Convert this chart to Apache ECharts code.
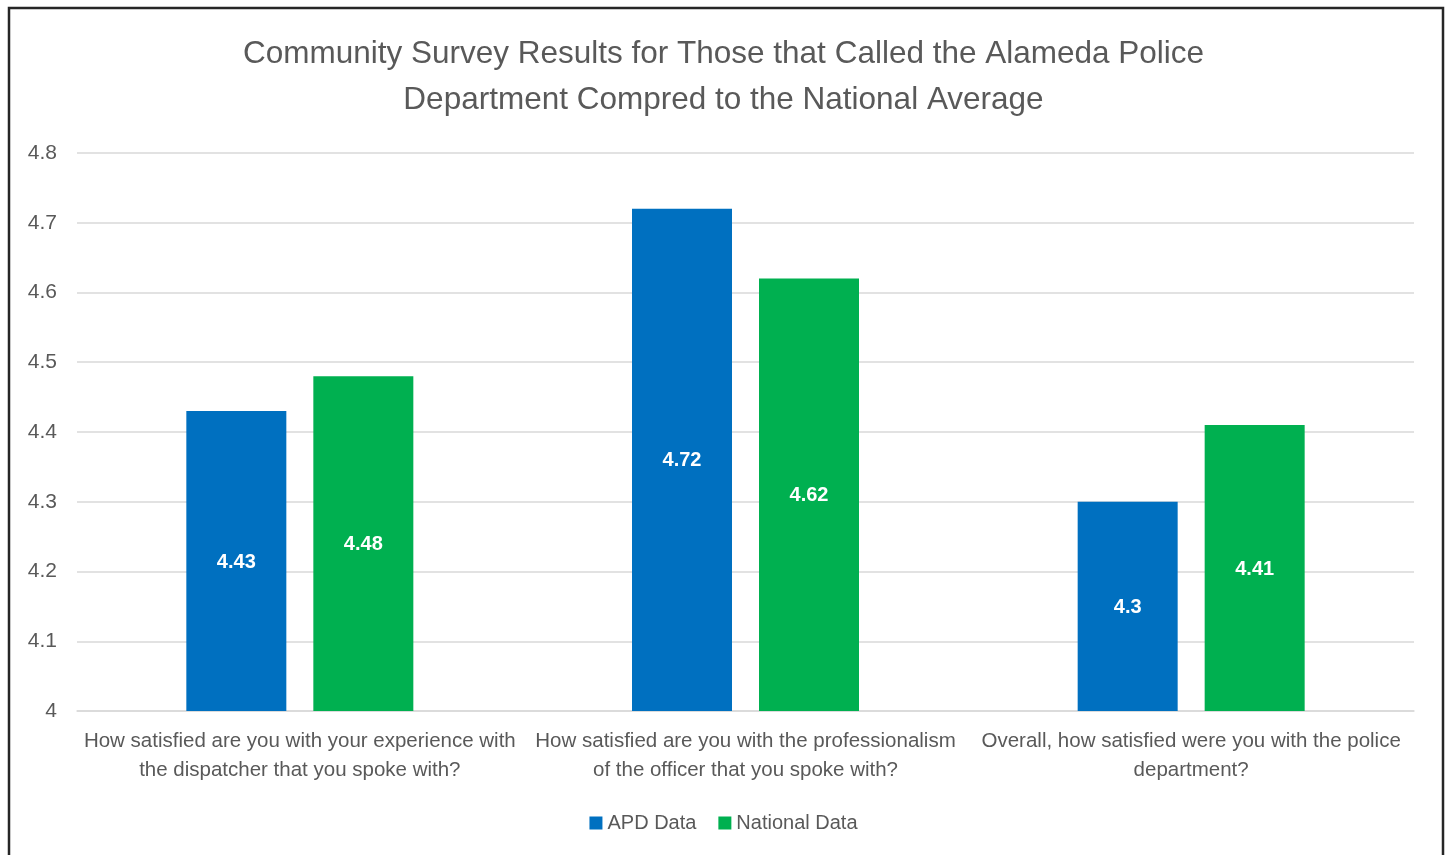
<!DOCTYPE html>
<html>
<head>
<meta charset="utf-8">
<script src="https://cdn.jsdelivr.net/npm/echarts@6/dist/echarts.min.js"></script>
<style>
html,body{margin:0;padding:0;background:#fff;}
#chart{width:1447px;height:855px;}
</style>
</head>
<body>
<div id="chart"></div>
<script>
const categories = [
  "How satisfied are you with your experience with\nthe dispatcher that you spoke with?",
  "How satisfied are you with the professionalism\nof the officer that you spoke with?",
  "Overall, how satisfied were you with the police\ndepartment?"
];
const seriesNames = ["APD Data", "National Data"];
const apdValues = [4.43, 4.72, 4.3];
const nationalValues = [4.48, 4.62, 4.41];
const yTicks = { min: 4, max: 4.8, interval: 0.1 };

const chart = echarts.init(document.getElementById('chart'));
const font = '"Liberation Sans", Arial, sans-serif';
const labelStyle = {
  show: true, position: 'inside', color: '#ffffff', fontWeight: 'bold',
  fontSize: 20, fontFamily: font, offset: [0, 1]
};
chart.setOption({
  animation: false,
  backgroundColor: '#ffffff',
  title: {
    text: 'Community Survey Results for Those that Called the Alameda Police\nDepartment Compred to the National Average',
    left: 'center', top: 26,
    textStyle: { fontFamily: font, fontSize: 31.5, fontWeight: 'normal', color: '#595959', lineHeight: 46 }
  },
  legend: {
    bottom: 17, left: 'center',
    icon: 'rect', itemWidth: 13, itemHeight: 13, itemGap: 22,
    textStyle: { fontFamily: font, fontSize: 20, color: '#595959', padding: [0,0,0,0] },
    data: seriesNames
  },
  grid: { left: 77, right: 33, top: 153, bottom: 144, containLabel: false },
  xAxis: {
    type: 'category', data: categories,
    axisLine: { show: true, lineStyle: { color: '#d9d9d9', width: 1.5 } },
    axisTick: { show: false },
    axisLabel: { interval: 0, margin: 16, fontFamily: font, fontSize: 20.5, color: '#595959', lineHeight: 29, align: 'center' }
  },
  yAxis: {
    type: 'value', min: yTicks.min, max: yTicks.max, interval: yTicks.interval,
    axisLine: { show: false }, axisTick: { show: false },
    splitLine: { lineStyle: { color: '#d9d9d9', width: 1.5 } },
    axisLabel: { margin: 20, fontFamily: font, fontSize: 21, color: '#595959',
      formatter: v => String(Math.round(v * 10) / 10) }
  },
  series: [
    { name: seriesNames[0], type: 'bar', data: apdValues, barWidth: 100, barGap: '27%',
      itemStyle: { color: '#0070C0' }, label: labelStyle },
    { name: seriesNames[1], type: 'bar', data: nationalValues, barWidth: 100,
      itemStyle: { color: '#00B050' }, label: labelStyle }
  ],
  graphic: [{
    type: 'rect', silent: true, z: 100,
    shape: { x: 9, y: 8, width: 1434, height: 900 },
    style: { fill: 'none', stroke: '#262626', lineWidth: 2.5 }
  }]
});
</script>
</body>
</html>
